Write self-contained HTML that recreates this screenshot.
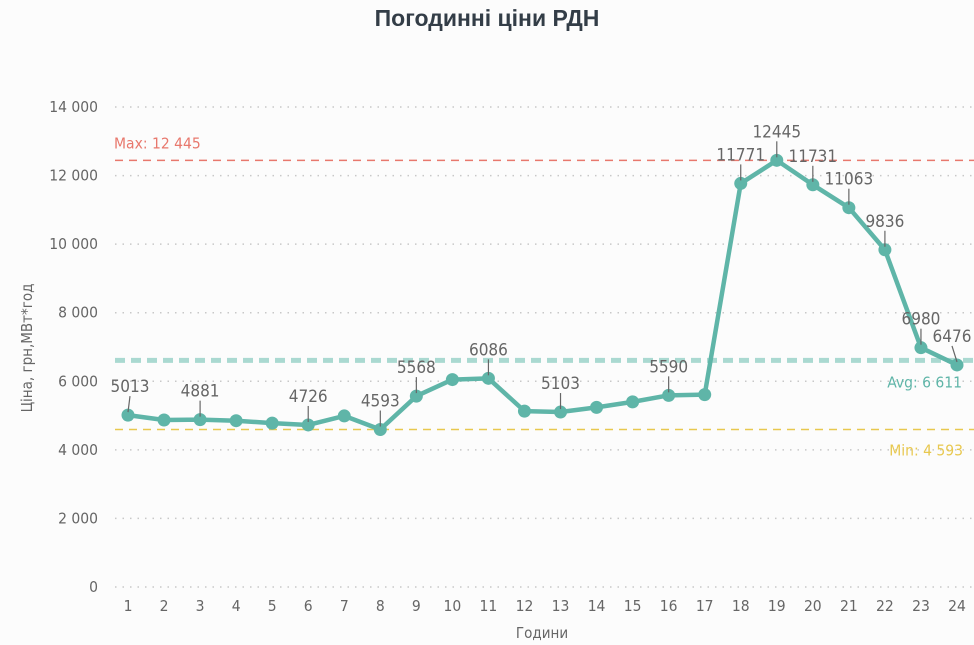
<!DOCTYPE html>
<html><head><meta charset="utf-8"><style>
html,body{margin:0;padding:0;background:#fcfcfc;}
svg{display:block;font-family:"DejaVu Sans Condensed","Liberation Sans",sans-serif;}
</style></head><body>
<svg id="c" width="974" height="645">
<text x="487" y="26" text-anchor="middle" font-size="23" font-weight="bold" fill="#333d47" font-family="Liberation Sans, sans-serif">Погодинні ціни РДН</text>
<text transform="translate(32,348) rotate(-90)" text-anchor="middle" font-size="15" fill="#666">Ціна, грн,МВт*год</text>
<text x="542" y="638" text-anchor="middle" font-size="15" fill="#666">Години</text>
<g id="grid"></g><g id="refs"></g><g id="line"></g><g id="labels"></g>
</svg>
<script>
const hours=[1,2,3,4,5,6,7,8,9,10,11,12,13,14,15,16,17,18,19,20,21,22,23,24];
const prices=[5013,4870,4881,4850,4780,4726,4990,4593,5568,6050,6086,5130,5103,5240,5400,5590,5610,11771,12445,11731,11063,9836,6980,6476];
const labeled=[1,3,6,8,9,11,13,16,18,19,20,21,22,23,24];
const yTicks=[0,2000,4000,6000,8000,10000,12000,14000];
const yTickLabels=["0","2 000","4 000","6 000","8 000","10 000","12 000","14 000"];
const refValues=[12445,6611,4593];
const refLabels=["Max: 12 445","Avg: 6 611","Min: 4 593"];
const NS="http://www.w3.org/2000/svg";
const X=h=>128+(h-1)*(957-128)/23;
const Y=v=>587-v*(587-107)/14000;
function mk(tag,attrs,parent,text){const e=document.createElementNS(NS,tag);for(const k in attrs)e.setAttribute(k,attrs[k]);if(text!==undefined)e.textContent=text;document.getElementById(parent).appendChild(e);return e;}
yTicks.forEach((t,i)=>{
 const l=mk('line',{x1:115,x2:974,y1:Y(t),y2:Y(t),stroke:'#c8c8c8','stroke-dasharray':'1.5 6','stroke-width':1.5},'grid');
 
 
 const tx=mk('text',{x:98,y:Y(t)+5,'text-anchor':'end','font-size':15.5,fill:'#666'},'grid',yTickLabels[i]);
 
 
});
hours.forEach(h=>{
 const tx=mk('text',{x:X(h),y:611,'text-anchor':'middle','font-size':15.5,fill:'#666'},'grid',String(h));
 
 
});
const mx=mk('line',{x1:115,x2:974,y1:Y(refValues[0]),y2:Y(refValues[0]),stroke:'#e8786d','stroke-width':1.5,'stroke-dasharray':'8 6'},'refs');


const mxt=mk('text',{x:114,y:Y(refValues[0])-12,'font-size':15.5,fill:'#e8786d'},'refs',refLabels[0]);


const av=mk('line',{x1:115,x2:974,y1:Y(refValues[1]),y2:Y(refValues[1]),stroke:'#aad9d1','stroke-width':5,'stroke-dasharray':'10 6'},'refs');


const avt=mk('text',{x:962,y:Y(refValues[1])+27,'text-anchor':'end','font-size':15.5,fill:'#5fb5a8'},'refs',refLabels[1]);


const mn=mk('line',{x1:115,x2:974,y1:Y(refValues[2]),y2:Y(refValues[2]),stroke:'#e8c84f','stroke-width':1.5,'stroke-dasharray':'8 6'},'refs');


const mnt=mk('text',{x:963,y:Y(refValues[2])+26,'text-anchor':'end','font-size':15.5,fill:'#e8c84f'},'refs',refLabels[2]);


const pts=hours.map((h,i)=>X(h)+','+Y(prices[i])).join(' ');
const pl=mk('polyline',{points:pts,fill:'none',stroke:'#5fb5a8','stroke-width':4.5,'stroke-linejoin':'round'},'line');


hours.forEach((h,i)=>{
 const c=mk('circle',{cx:X(h),cy:Y(prices[i]),r:6.5,fill:'#5fb5a8'},'line');
 
 
});
hours.forEach((h,i)=>{
 if(!labeled.includes(h))return;
 const px=X(h),py=Y(prices[i]);
 let lx=px; if(h===24)lx=px-5; if(h===1)lx=px+2;
 const ld=mk('line',{x1:lx,y1:py-19,x2:px,y2:py-3,stroke:'#666','stroke-width':1.2},'labels');
 
 
 const t=mk('text',{x:lx,y:py-23,'text-anchor':'middle','font-size':17,fill:'#666'},'labels',String(prices[i]));
 
 
});
</script>
</body></html>
